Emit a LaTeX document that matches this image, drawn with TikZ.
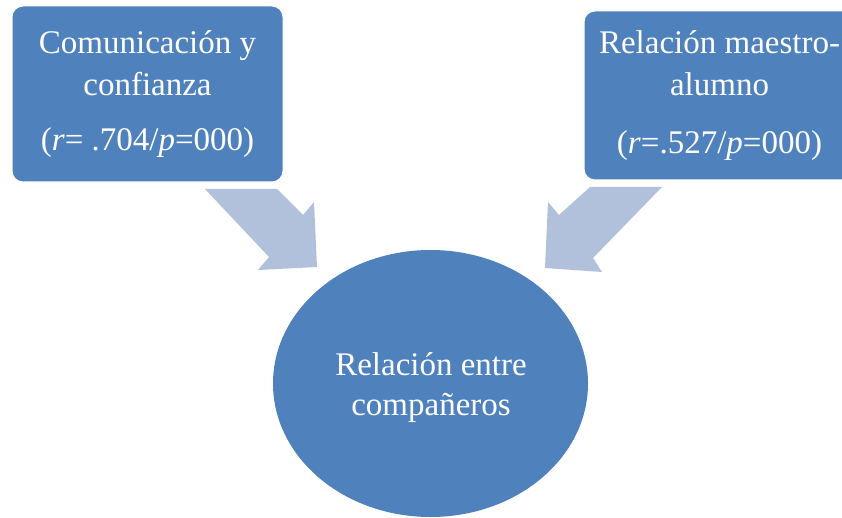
\documentclass[tikz,border=0pt]{standalone}
\usepackage{fontspec}
\setmainfont{Liberation Serif}
\usetikzlibrary{shapes.geometric}
\definecolor{boxblue}{RGB}{79,129,189}
\definecolor{arrowblue}{RGB}{177,193,220}
\tikzset{
  box/.style={draw=white, line width=1pt, fill=boxblue, rounded corners=11pt, text=white,
    align=center, inner sep=0pt, minimum width=271pt, font=\fontsize{33}{42}\selectfont},
  oval/.style={ellipse, fill=boxblue, inner sep=0pt,
    minimum width=315pt, minimum height=267pt},
  ovaltext/.style={text=white, align=center, inner sep=0pt, font=\fontsize{33}{40}\selectfont},
  blockarrow/.style={fill=arrowblue}
}
\begin{document}
\begin{tikzpicture}[x=1pt,y=-1pt]
\useasboundingbox (0,0) rectangle (842,518);
\clip (0,0) rectangle (842,518);
% block arrows
\fill[blockarrow] (205,189) -- (277,189) -- (303,215) -- (314,202) -- (317,267)
  -- (258,270) -- (269,257) -- cycle;
\fill[blockarrow] (662,187) -- (590,187) -- (559,215) -- (548,202) -- (545,268)
  -- (602,272) -- (593,258) -- cycle;
% boxes
\node[box, minimum height=176pt] (left) at (147.5,94)
  {Comunicación y\\confianza\\[13pt](\textit{r}= .704/\textit{p}=000)};
\node[box, minimum height=169pt] (right) at (719.5,95.5)
  {Relación maestro-\\alumno\\[16pt](\textit{r}=.527/\textit{p}=000)};
% ellipse
\node[oval] (center) at (430.5,383.5) {};
\node[ovaltext] (centertext) at (431,388) {Relación entre\\compañeros};
\end{tikzpicture}
\end{document}
